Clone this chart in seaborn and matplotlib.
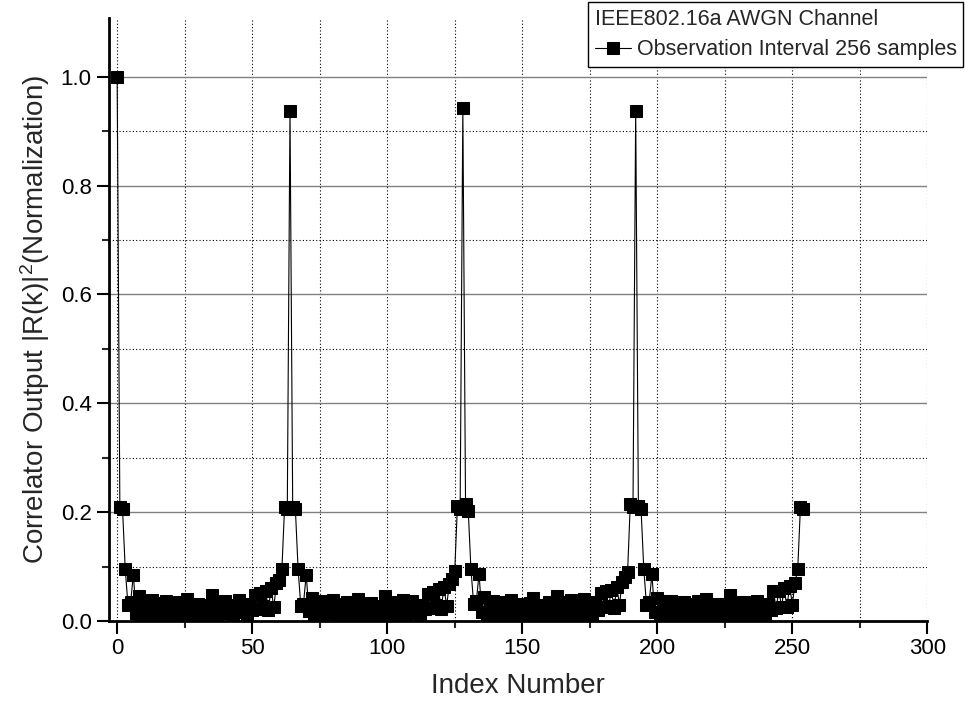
import numpy as np
import pandas as pd
import matplotlib
matplotlib.use("Agg")
import matplotlib.pyplot as plt
import seaborn as sns
from matplotlib.ticker import MultipleLocator, FixedLocator

seg0 = [1.000, 0.210, 0.205, 0.095, 0.030, 0.035, 0.085, 0.015, 0.045, 0.010,
        0.030, 0.035, 0.012, 0.038, 0.008, 0.025, 0.033, 0.012, 0.036, 0.018,
        0.005, 0.030, 0.022, 0.035, 0.010, 0.028, 0.040, 0.015, 0.025, 0.006,
        0.032, 0.020, 0.030, 0.012, 0.026, 0.048, 0.018, 0.009, 0.033, 0.024,
        0.036, 0.014, 0.028, 0.004, 0.030, 0.038, 0.016, 0.027, 0.011, 0.032,
        0.020, 0.048, 0.022, 0.052, 0.028, 0.055, 0.020, 0.060, 0.025, 0.070,
        0.075, 0.095, 0.210, 0.205]
seg1 = [0.938, 0.210, 0.205, 0.095, 0.028, 0.032, 0.085, 0.018, 0.042, 0.012,
        0.034, 0.030, 0.008, 0.036, 0.015, 0.027, 0.038, 0.010, 0.031, 0.022,
        0.006, 0.035, 0.019, 0.032, 0.012, 0.040, 0.024, 0.014, 0.029, 0.007,
        0.033, 0.018, 0.028, 0.010, 0.024, 0.045, 0.020, 0.008, 0.030, 0.026,
        0.034, 0.013, 0.038, 0.005, 0.029, 0.036, 0.015, 0.025, 0.012, 0.030,
        0.022, 0.050, 0.024, 0.054, 0.030, 0.058, 0.022, 0.062, 0.028, 0.068,
        0.078, 0.092, 0.212, 0.205]
seg2 = [0.942, 0.215, 0.203, 0.095, 0.032, 0.036, 0.087, 0.016, 0.044, 0.011,
        0.031, 0.037, 0.010, 0.034, 0.009, 0.028, 0.035, 0.013, 0.038, 0.020,
        0.007, 0.032, 0.024, 0.030, 0.009, 0.033, 0.042, 0.017, 0.026, 0.005,
        0.030, 0.021, 0.034, 0.011, 0.027, 0.046, 0.016, 0.010, 0.035, 0.023,
        0.038, 0.012, 0.030, 0.006, 0.028, 0.040, 0.018, 0.026, 0.010, 0.034,
        0.021, 0.052, 0.025, 0.055, 0.027, 0.057, 0.024, 0.063, 0.030, 0.072,
        0.080, 0.090, 0.215, 0.210]
seg3 = [0.937, 0.212, 0.205, 0.095, 0.030, 0.034, 0.086, 0.017, 0.043, 0.012,
        0.032, 0.036, 0.011, 0.037, 0.008, 0.026, 0.034, 0.012, 0.035, 0.019,
        0.006, 0.031, 0.023, 0.036, 0.011, 0.030, 0.041, 0.016, 0.027, 0.007,
        0.031, 0.019, 0.032, 0.010, 0.025, 0.047, 0.017, 0.009, 0.034, 0.022,
        0.035, 0.013, 0.029, 0.005, 0.031, 0.037, 0.015, 0.028, 0.012, 0.031,
        0.020, 0.055, 0.023, 0.056, 0.026, 0.060, 0.025, 0.065, 0.030, 0.070,
        0.095, 0.210, 0.205]

corr = seg0 + seg1 + seg2 + seg3
index = list(range(len(corr)))

legend_title = "IEEE802.16a AWGN Channel"
series_label = "Observation Interval 256 samples"
x_label = "Index Number"
y_label = r"Correlator Output |R(k)|$^{2}$(Normalization)"

sns.set_style("white")
plt.rcParams["font.family"] = ["Liberation Sans", "DejaVu Sans"]
plt.rcParams["mathtext.default"] = "regular"

fig = plt.figure(figsize=(9.65, 7.15), dpi=100)
ax = fig.add_axes([0.113, 0.1315, 0.848, 0.8433])

df = pd.DataFrame({"idx": index, "val": corr})
sns.lineplot(data=df, x="idx", y="val", ax=ax, color="black", linewidth=0.8,
             marker="s", markersize=8, markeredgecolor="black",
             markerfacecolor="black", label=series_label)

ax.set_xlim(-3, 300)
ax.set_ylim(0, 1.108)
ax.xaxis.set_major_locator(MultipleLocator(50))
ax.xaxis.set_minor_locator(MultipleLocator(25))
ax.yaxis.set_major_locator(MultipleLocator(0.2))
ax.yaxis.set_minor_locator(FixedLocator([0.1, 0.3, 0.5, 0.7, 0.9]))
ax.yaxis.set_major_formatter(matplotlib.ticker.FormatStrFormatter("%.1f"))

ax.grid(False)
ax.grid(True, which="major", axis="y", color="#808080", linestyle="-", linewidth=1.0)
ax.grid(True, which="minor", axis="y", color="black", linestyle=(0, (1, 2)), linewidth=0.8)
ax.grid(True, which="both", axis="x", color="black", linestyle=(0, (1, 2)), linewidth=0.8)
ax.set_axisbelow(True)

for s in ["top", "right"]:
    ax.spines[s].set_visible(False)
for s in ["left", "bottom"]:
    ax.spines[s].set_linewidth(2.0)
    ax.spines[s].set_color("black")

ax.tick_params(axis="both", which="major", direction="out", length=9, width=1.5,
               labelsize=16, colors="black", bottom=True, left=True)
ax.tick_params(axis="both", which="minor", direction="out", length=5, width=1.5,
               bottom=True, left=True)

ax.set_xlabel(x_label, fontsize=20, labelpad=10)
ax.set_ylabel(y_label, fontsize=20, labelpad=6)

leg = ax.legend(title=legend_title, loc="upper right",
                bbox_to_anchor=(0.998, 0.997), bbox_transform=fig.transFigure,
                fontsize=15.5, title_fontsize=15.5, frameon=True, fancybox=False,
                borderpad=0.3, handlelength=1.7, handletextpad=0.25,
                borderaxespad=0, labelspacing=0.2)
leg._legend_box.align = "left"
leg._legend_box.sep = 7
leg.get_frame().set_edgecolor("black")
leg.get_frame().set_linewidth(1.0)
leg.get_frame().set_alpha(1.0)

fig.savefig("out.png", dpi=100)
